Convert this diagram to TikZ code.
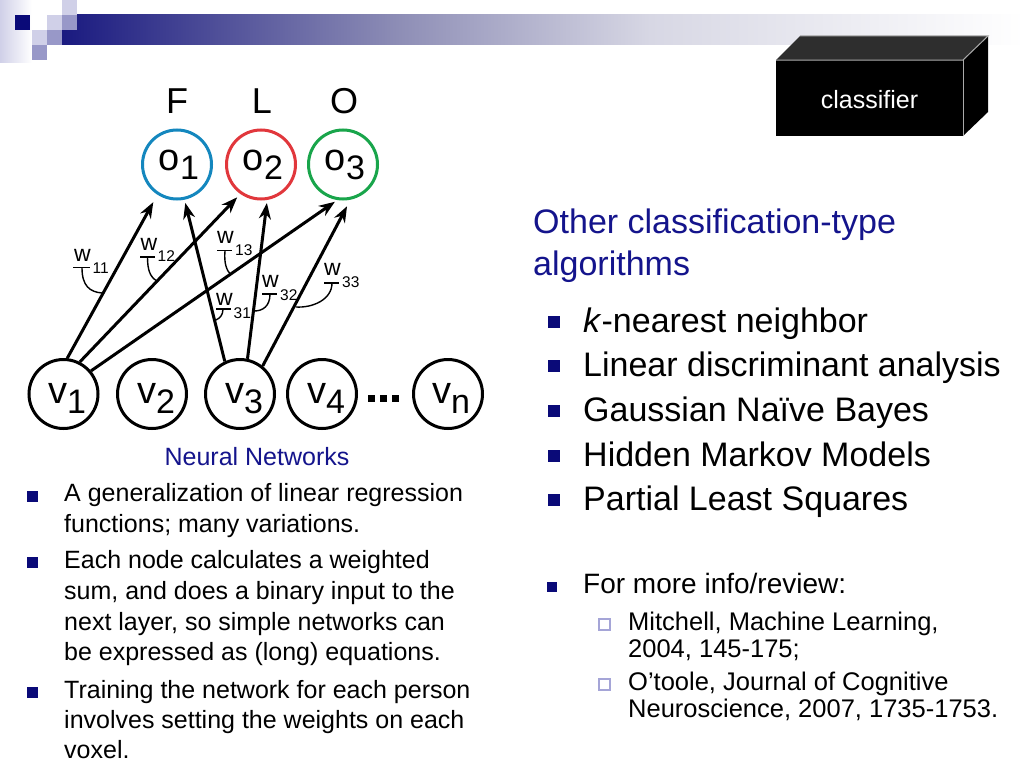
\documentclass[tikz,border=0pt]{standalone}
\usepackage{fontspec}
\setmainfont{Liberation Sans}
\usetikzlibrary{arrows.meta}
\definecolor{navy}{RGB}{20,20,140}
\definecolor{bnavy}{RGB}{10,10,120}
\definecolor{barnavy}{RGB}{26,26,128}
\definecolor{barmid}{RGB}{142,142,182}
\definecolor{barlight}{RGB}{215,215,228}
\definecolor{obl}{RGB}{20,135,190}
\definecolor{ored}{RGB}{225,55,60}
\definecolor{ogr}{RGB}{25,165,75}
\definecolor{lsq}{RGB}{208,208,232}
\definecolor{msq}{RGB}{152,152,200}
\definecolor{edge}{RGB}{170,170,170}
\definecolor{subsq}{RGB}{165,165,215}
\newcommand{\fs}[1]{\fontsize{#1}{#1}\selectfont}
\newcommand{\olab}[2]{#1\raisebox{-9pt}{\fs{34}#2}}
\newcommand{\vlab}[2]{#1\raisebox{-10pt}{\fs{34}#2}}
\begin{document}
\begin{tikzpicture}[x=1pt,y=-1pt,
  neuron/.style={circle,draw,line width=3pt,minimum size=69pt,inner sep=0pt},
  lab/.style={inner sep=0pt,anchor=base},
  conn/.style={line width=3pt,-{Stealth[length=16pt,width=12pt]}},
  wlab/.style={inner sep=0pt,anchor=base west,font=\fs{23}},
  wsub/.style={inner sep=0pt,anchor=base west,font=\fs{15.5}},
  wtick/.style={line width=1.4pt},
  txt/.style={inner sep=0pt,anchor=base west},
  ltxt/.style={txt,font=\fs{25}},
  rtxt/.style={txt,font=\fs{34}},
  stxt/.style={txt,font=\fs{25.5}}
]
\useasboundingbox (0,0) rectangle (1024,768);
\fill[white] (0,0) rectangle (1024,768);
% header
\shade[left color=lsq, right color=white] (0,0) rectangle (32,62);
\shade[left color=barnavy, right color=barmid] (62,15) rectangle (400,45);
\shade[left color=barmid, right color=barlight] (399.5,15) rectangle (650,45);
\shade[left color=barlight, right color=white] (649.5,15) rectangle (1024,45);
\fill[bnavy] (15,15) rectangle (30,30);
\fill[lsq] (62,0) rectangle (77,15);
\fill[lsq] (47,15) rectangle (62,30);
\fill[msq] (62,15) rectangle (77,30);
\fill[lsq] (32,30) rectangle (47,45);
\fill[msq] (47,30) rectangle (62,45);
\fill[msq] (32,45) rectangle (47,60);
% classifier box
\fill[black] (776,60) rectangle (963,136);
\fill[black!82] (776,60) -- (800,36) -- (988,36) -- (963,60) -- cycle;
\fill[black] (963,60) -- (988,36) -- (988,112) -- (963,136) -- cycle;
\draw[edge,line width=1pt] (776,60) -- (963,60) -- (988,36) -- (800,36);
\draw[edge,line width=1pt] (963,60) -- (963,136);
\node[lab,font=\fs{25},text=white] (cls) at (869.5,108) {classifier};
% network
\node[lab,font=\fs{36}] (F) at (177,113.3) {F};
\node[lab,font=\fs{36}] (L) at (262,113.3) {L};
\node[lab,font=\fs{36}] (O) at (344,113.3) {O};
\node[neuron,draw=obl] (o1) at (177,164.5) {};
\node[neuron,draw=ored] (o2) at (261,164.5) {};
\node[neuron,draw=ogr] (o3) at (343,164.5) {};
\node[neuron] (v1) at (63.5,394) {};
\node[neuron] (v2) at (152,394) {};
\node[neuron] (v3) at (240,394) {};
\node[neuron] (v4) at (322,394) {};
\node[neuron] (vn) at (448,394) {};
\node[lab,font=\fs{38}] (o1t) at (179,170) {\olab{o}{1}};
\node[lab,font=\fs{38}] (o2t) at (263,170) {\olab{o}{2}};
\node[lab,font=\fs{38}] (o3t) at (345,170) {\olab{o}{3}};
\node[lab,font=\fs{38}] (v1t) at (67,403) {\vlab{v}{1}};
\node[lab,font=\fs{38}] (v2t) at (156,403) {\vlab{v}{2}};
\node[lab,font=\fs{38}] (v3t) at (244,403) {\vlab{v}{3}};
\node[lab,font=\fs{38}] (v4t) at (326,403) {\vlab{v}{4}};
\node[lab,font=\fs{38}] (vnt) at (451,403) {\vlab{v}{n}};
\fill (368,395) rectangle (374.5,401.5);
\fill (380,395) rectangle (386.5,401.5);
\fill (392,395) rectangle (398.5,401.5);
% connectors
\draw[conn,shorten >=8.5pt] (v1.84) -- (o1.237);
\draw[conn,shorten >=4.6pt] (v1.63) -- (o2.235);
\draw[conn,shorten >=3pt] (v1.40) -- (o3.261);
\draw[conn,shorten >=3.3pt] (v3.115) -- (o1.282);
\draw[conn,shorten >=3.1pt] (v3.78) -- (o2.280);
\draw[conn,shorten >=7.4pt] (v3.51) -- (o3.282);
% weights
\node[wlab] (w11) at (74,261) {w};
\node[wsub] (s11) at (92.5,273) {11};
\draw[wtick] (73,267.7) -- (90,267.7);
\draw[wtick] (82,268) .. controls (82,286) and (90,292) .. (102,293);
\node[wlab] (w12) at (140.5,250) {w};
\node[wsub] (s12) at (157.5,261) {12};
\draw[wtick] (140,257) -- (155,257);
\draw[wtick] (147.5,257) .. controls (147.5,270) and (150,277) .. (157,281);
\node[wlab] (w13) at (217,243) {w};
\node[wsub] (s13) at (235,255) {13};
\draw[wtick] (217,250.7) -- (232,250.7);
\draw[wtick] (225,251) .. controls (224,262) and (226,270) .. (231,275);
\node[wlab] (w31) at (216,305) {w};
\node[wsub] (s31) at (233.5,318) {31};
\draw[wtick] (216,309) -- (231,309);
\draw[wtick] (223,309) .. controls (223,315) and (220,318) .. (216,320);
\node[wlab] (w32) at (262,287) {w};
\node[wsub] (s32) at (280,300) {32};
\draw[wtick] (262,294) -- (277,294);
\draw[wtick] (270,294) .. controls (270,306) and (263,311) .. (254,311);
\node[wlab] (w33) at (324,275) {w};
\node[wsub] (s33) at (342,287) {33};
\draw[wtick] (324,283) -- (339,283);
\draw[wtick] (332,283) .. controls (332,300) and (312,308) .. (296,307);
% left text
\node[lab,font=\fs{25},text=navy] (nn) at (257,465) {Neural Networks};
\fill[bnavy] (27,490.5) rectangle (38,501.5);
\fill[bnavy] (27,556.5) rectangle (38,567.5);
\fill[bnavy] (27,686.5) rectangle (38,697.5);
\node[ltxt] (l1) at (64,501.7) {A generalization of linear regression};
\node[ltxt] (l2) at (64,532.7) {functions; many variations.};
\node[ltxt] (l3) at (64,568) {Each node calculates a weighted};
\node[ltxt] (l4) at (64,599) {sum, and does a binary input to the};
\node[ltxt] (l5) at (64,630) {next layer, so simple networks can};
\node[ltxt] (l6) at (64,660.7) {be expressed as (long) equations.};
\node[ltxt] (l7) at (64,698) {Training the network for each person};
\node[ltxt] (l8) at (64,728) {involves setting the weights on each};
\node[ltxt] (l9) at (64,758) {voxel.};
% right text
\node[rtxt,text=navy] (t1) at (533,233) {Other classification-type};
\node[rtxt,text=navy] (t2) at (533,275) {algorithms};
\fill[bnavy] (548,315.5) rectangle (560,327.5);
\fill[bnavy] (548,360.2) rectangle (560,372.2);
\fill[bnavy] (548,404.9) rectangle (560,416.9);
\fill[bnavy] (548,449.5) rectangle (560,461.5);
\fill[bnavy] (548,494.3) rectangle (560,506.3);
\node[rtxt] (b1) at (583,332) {\textit{k}-nearest neighbor};
\node[rtxt] (b2) at (583,376.7) {Linear discriminant analysis};
\node[rtxt] (b3) at (583,421.4) {Gaussian Naïve Bayes};
\node[rtxt] (b4) at (583,466) {Hidden Markov Models};
\node[rtxt] (b5) at (583,510.8) {Partial Least Squares};
\fill[bnavy] (547,581.5) rectangle (557,591.5);
\node[txt,font=\fs{28}] (f1) at (583,593) {For more info/review:};
\draw[subsq,line width=1.2pt] (599,619) rectangle (610,630);
\draw[subsq,line width=1.2pt] (599,679) rectangle (610,690);
\node[stxt] (s1) at (628,630) {Mitchell, Machine Learning,};
\node[stxt] (s2) at (628,657) {2004, 145-175;};
\node[stxt] (s3) at (628,690) {O’toole, Journal of Cognitive};
\node[stxt] (s4) at (628,717) {Neuroscience, 2007, 1735-1753.};
\end{tikzpicture}
\end{document}
